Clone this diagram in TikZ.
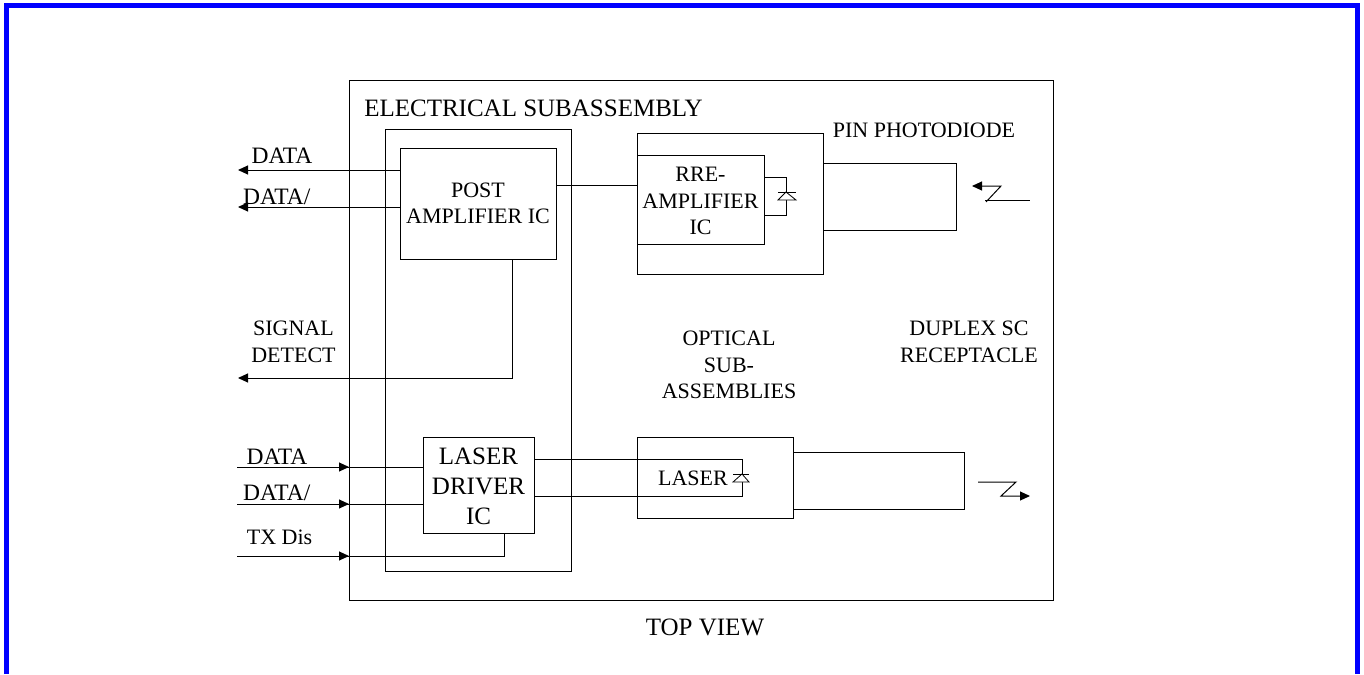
\documentclass[tikz,border=0pt]{standalone}
\usepackage{fontspec}
\setmainfont{Liberation Serif}
\usetikzlibrary{arrows.meta}

\definecolor{framecol}{RGB}{0,0,255}
\tikzset{
  block/.style={draw,line width=1pt,inner sep=0pt,outer sep=0pt,align=center},
  caption/.style={inner sep=0pt,outer sep=0pt,align=center},
  sig/.style={line width=1pt},
  sigarrow/.style={line width=1pt,-{Triangle[length=10pt,width=9pt]}},
  pinfont/.style={font=\fontsize{23.5}{26.5}\selectfont},
  bigfont/.style={font=\fontsize{25}{30}\selectfont}
}

\begin{document}
\begin{tikzpicture}[x=1pt,y=-1pt,font=\fontsize{22}{26.5}\selectfont]
\useasboundingbox (0,0) rectangle (1364,674);

\draw[framecol,line width=5pt] (6.5,674) -- (6.5,5.5) -- (1357.5,5.5) -- (1357.5,674);

\node[block,minimum width=704pt,minimum height=519pt] (assembly) at (701,340.5) {};
\node[block,minimum width=186pt,minimum height=442pt] (elec) at (478,350) {};
\node[block,minimum width=156pt,minimum height=111pt] (postamp) at (478,203.5) {POST\\AMPLIFIER IC};
\node[block,bigfont,minimum width=111pt,minimum height=96pt,text height=80pt] (driver) at (478.5,485) {LASER\\DRIVER\\IC};
\node[block,minimum width=186pt,minimum height=141pt] (pinbox) at (730,203.5) {};
\node[block,minimum width=127pt,minimum height=89pt,text height=71pt] (preamp) at (700.5,199.5) {RRE-\\AMPLIFIER\\IC};
\node[block,minimum width=133pt,minimum height=67pt] (pinbarrel) at (889.5,196.5) {};
\node[block,minimum width=156pt,minimum height=81pt] (laserbox) at (715,477.5) {};
\node[block,minimum width=171pt,minimum height=57pt] (laserbarrel) at (878.5,480.5) {};

\node[caption,bigfont] (elabel) at (533.5,108.5) {ELECTRICAL SUBASSEMBLY};
\node[caption] (pinlabel) at (924,130) {PIN PHOTODIODE};
\node[caption] (sdlabel) at (293.5,342) {SIGNAL\\DETECT};
\node[caption] (optlabel) at (729,365) {OPTICAL\\SUB-\\ASSEMBLIES};
\node[caption] (duplabel) at (969,342) {DUPLEX SC\\RECEPTACLE};
\node[caption] (laserlabel) at (693,478) {LASER};
\node[caption,bigfont] (toplabel) at (705,627.5) {TOP VIEW};
\node[caption,pinfont] (dout1) at (282,156) {DATA};
\node[caption,pinfont] (dout2) at (276.7,196.7) {DATA/};
\node[caption,pinfont] (din1) at (277,456.7) {DATA};
\node[caption,pinfont] (din2) at (276.7,493) {DATA/};
\node[caption] (txlabel) at (279.5,537.7) {TX Dis};

\coordinate (outa) at (238,170);
\coordinate (outb) at (238,207);
\coordinate (outc) at (238,378);
\coordinate (ina) at (237,467);
\coordinate (inb) at (237,504);
\coordinate (inc) at (237,556);

\draw[sigarrow] (postamp.west |- outa) -- (outa);
\draw[sigarrow] (postamp.west |- outb) -- (outb);
\draw[sigarrow] (512,259) -- (512,378) -- (outc);

\draw[sigarrow] (ina) -- (assembly.west |- ina);
\draw[sig] (ina) -- (driver.west |- ina);
\draw[sigarrow] (inb) -- (assembly.west |- inb);
\draw[sig] (inb) -- (driver.west |- inb);
\draw[sigarrow] (inc) -- (assembly.west |- inc);
\draw[sig] (inc) -- (504,556) -- (504,533);

\draw[sig] (postamp.east |- 0,185) -- (preamp.west |- 0,185);

% photodiode
\draw[sig] (preamp.east |- 0,177) -- (786,177) -- (786,215) -- (preamp.east |- 0,215);
\draw[sig,line width=0.8pt,fill=white] (786,192) -- (778,200) -- (796,200) -- cycle;
\draw[sig,line width=0.8pt] (778,192) -- (796,192);

% laser diode
\coordinate (drva) at (742,459);
\coordinate (drvb) at (742,496);
\draw[sig] (driver.east |- drva) -- (drva) -- (drvb) -- (driver.east |- drvb);
\draw[sig,line width=0.8pt,fill=white] (742,474) -- (733,482) -- (749,482) -- cycle;
\draw[sig,line width=0.8pt] (733,474) -- (749,474);

% light in and out
\draw[sigarrow] (986,202) -- (1001,186) -- (972,186);
\draw[sig] (985,200) -- (1030,200);
\draw[sigarrow] (978,482) -- (1016,482) -- (1001,496) -- (1030,496);

\end{tikzpicture}
\end{document}
